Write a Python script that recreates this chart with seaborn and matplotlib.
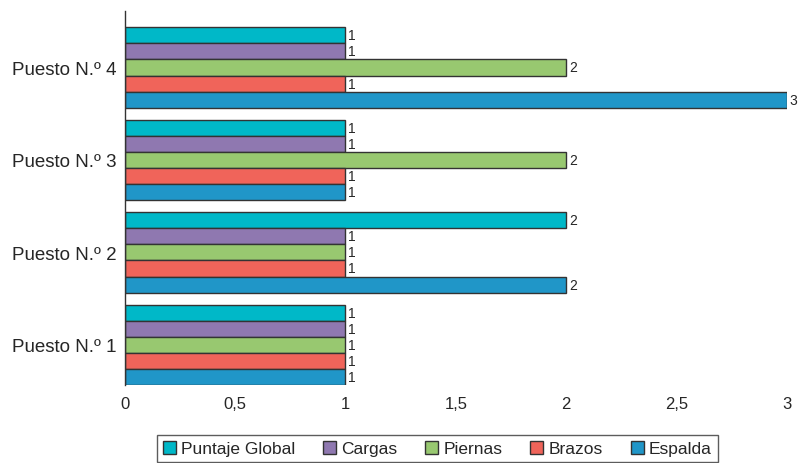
import pandas as pd
import matplotlib.pyplot as plt
import seaborn as sns

puestos = ["Puesto N.º 4", "Puesto N.º 3", "Puesto N.º 2", "Puesto N.º 1"]
series = ["Puntaje Global", "Cargas", "Piernas", "Brazos", "Espalda"]
colores = ["#00B8C8", "#8F78B0", "#98C870", "#F0645A", "#2096C8"]

puntaje_global = [1, 1, 2, 1]
cargas = [1, 1, 1, 1]
piernas = [2, 2, 1, 1]
brazos = [1, 1, 1, 1]
espalda = [3, 1, 2, 1]

valores = [puntaje_global, cargas, piernas, brazos, espalda]
filas = []
for s, vals in zip(series, valores):
    for p, v in zip(puestos, vals):
        filas.append({"Puesto": p, "Serie": s, "Valor": v})
df = pd.DataFrame(filas)

sns.set_style("white")
plt.rcParams["font.family"] = ["Liberation Sans", "DejaVu Sans"]

fig = plt.figure(figsize=(8.01, 4.64), dpi=100)
ax = fig.add_axes([0.156, 0.168, 0.826, 0.806])

sns.barplot(data=df, x="Valor", y="Puesto", hue="Serie", order=puestos,
            hue_order=series, palette=colores, saturation=1, orient="h",
            width=0.87, edgecolor="#333333", linewidth=1, ax=ax, legend=True)

for cont in ax.containers:
    ax.bar_label(cont, padding=2, fontsize=10, clip_on=False)

ax.set_xlim(0, 3)
ax.set_ylim(3.435, -0.61)
ax.set_xticks([0, 0.5, 1, 1.5, 2, 2.5, 3])
ax.set_xticklabels(["0", "0,5", "1", "1,5", "2", "2,5", "3"], fontsize=12)
ax.tick_params(axis="y", labelsize=13.5, length=0, pad=6)
ax.tick_params(axis="x", length=0, pad=8)
ax.set_xlabel("")
ax.set_ylabel("")
for lado in ["top", "right", "bottom"]:
    ax.spines[lado].set_visible(False)
ax.spines["left"].set_color("#333333")
ax.spines["left"].set_linewidth(1)

ax.legend(loc="upper center", bbox_to_anchor=(0.472, -0.11), ncol=5,
          frameon=True, fancybox=False, edgecolor="#333333", fontsize=12.5,
          handlelength=0.75, handleheight=0.75, handletextpad=0.3,
          columnspacing=1.6, borderpad=0.35)
ax.get_legend().get_frame().set_linewidth(1)

plt.savefig("out.png", dpi=100)
